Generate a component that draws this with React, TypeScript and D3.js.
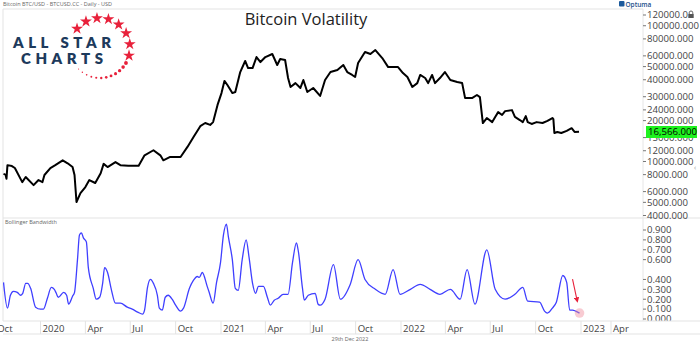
import React from "react";
import * as d3 from "d3";

const chartTitle = "Bitcoin Volatility";
const headerText = "Bitcoin BTC/USD - BTCUSD.CC - Daily - USD";
const lowerPanelTitle = "Bollinger Bandwidth";
const footerText = "29th Dec 2022";
const lastPriceLabel = "16,566.000";

const priceDates = [
  "2019-10-18","2019-10-22","2019-10-24","2019-10-26","2019-11-04","2019-11-10","2019-11-25","2019-12-02","2019-12-18","2019-12-28",
  "2020-01-05","2020-01-09","2020-01-21","2020-01-31","2020-02-15","2020-02-25","2020-03-06","2020-03-10","2020-03-14","2020-03-22",
  "2020-04-01","2020-04-09","2020-04-21","2020-05-02","2020-05-08","2020-05-16","2020-06-01","2020-06-11","2020-06-27","2020-07-18",
  "2020-07-30","2020-08-17","2020-08-31","2020-09-06","2020-09-20","2020-10-11","2020-10-25","2020-11-06","2020-11-20","2020-11-30",
  "2020-12-10","2020-12-16","2020-12-25","2021-01-02","2021-01-08","2021-01-14","2021-01-24","2021-01-30","2021-02-09","2021-02-19",
  "2021-02-25","2021-03-06","2021-03-14","2021-03-22","2021-04-01","2021-04-15","2021-04-25","2021-05-01","2021-05-11","2021-05-17",
  "2021-05-22","2021-06-01","2021-06-11","2021-06-17","2021-06-25","2021-07-07","2021-07-21","2021-07-31","2021-08-11","2021-08-25",
  "2021-09-06","2021-09-14","2021-09-24","2021-09-30","2021-10-06","2021-10-20","2021-10-31","2021-11-10","2021-11-24","2021-12-06",
  "2021-12-26","2022-01-05","2022-01-14","2022-01-24","2022-02-03","2022-02-09","2022-02-19","2022-02-25","2022-03-05","2022-03-11",
  "2022-03-21","2022-03-31","2022-04-11","2022-04-25","2022-05-05","2022-05-11","2022-05-25","2022-06-04","2022-06-10","2022-06-16",
  "2022-06-24","2022-07-05","2022-07-11","2022-07-17","2022-07-25","2022-07-31","2022-08-14","2022-08-20","2022-08-30","2022-09-05",
  "2022-09-11","2022-09-15","2022-09-23","2022-10-03","2022-10-15","2022-10-25","2022-11-04","2022-11-06","2022-11-08","2022-11-14",
  "2022-11-22","2022-12-03","2022-12-13","2022-12-19","2022-12-28"
];
const priceValues = [
  8100,8000,7450,9400,9250,8950,7050,7680,6700,7300,
  7050,7950,8950,9400,10200,9700,9100,7950,5030,5850,
  6480,7300,6940,8200,9600,9100,9900,9400,9300,9300,
  11100,12100,11100,10200,10800,10800,12800,15100,18200,19200,
  18600,19500,26100,31900,39200,36600,31900,32500,45600,55000,
  48800,48800,58800,54000,58800,61900,51400,56900,55900,41200,
  35400,37800,34800,39800,32500,34800,30400,39800,45600,47200,
  51400,45600,43400,41900,53100,64000,61900,66200,57800,49600,
  49600,44800,41900,35400,37800,43400,41200,37800,43400,37800,
  41200,45600,39800,38500,37800,29300,29300,30900,29800,19200,
  20900,19500,21300,23100,22000,23500,23900,21300,20200,19500,
  21600,19500,18900,19500,19200,19900,20900,20500,16200,16500,
  16200,16800,17600,16500,16566
];

const bbwDates = [
  "2019-10-18","2019-10-26","2019-11-01","2019-11-07","2019-11-15","2019-11-21","2019-11-26","2019-12-02","2019-12-06","2019-12-12",
  "2019-12-22","2020-01-01","2020-01-07","2020-01-15","2020-01-23","2020-01-29","2020-02-02","2020-02-06","2020-02-17","2020-02-23",
  "2020-02-27","2020-03-06","2020-03-10","2020-03-16","2020-03-20","2020-03-24","2020-03-28","2020-04-03","2020-04-07","2020-04-17",
  "2020-04-23","2020-04-30","2020-05-06","2020-05-10","2020-05-16","2020-05-24","2020-06-01","2020-06-11","2020-06-25","2020-07-05",
  "2020-07-16","2020-07-26","2020-07-30","2020-08-05","2020-08-11","2020-08-17","2020-08-25","2020-08-29","2020-09-04","2020-09-10",
  "2020-09-16","2020-09-24","2020-10-01","2020-10-11","2020-10-17","2020-10-29","2020-11-06","2020-11-14","2020-11-18","2020-11-24",
  "2020-12-04","2020-12-08","2020-12-16","2020-12-23","2020-12-31","2021-01-06","2021-01-12","2021-01-16","2021-01-24","2021-01-30",
  "2021-02-05","2021-02-13","2021-02-21","2021-02-27","2021-03-06","2021-03-12","2021-03-18","2021-03-28","2021-04-05","2021-04-11",
  "2021-04-19","2021-04-27","2021-05-07","2021-05-17","2021-05-26","2021-06-03","2021-06-07","2021-06-15","2021-06-19","2021-06-27",
  "2021-07-11","2021-07-17","2021-07-21","2021-07-31","2021-08-17","2021-08-31","2021-09-20","2021-10-06","2021-10-20","2021-11-10",
  "2021-11-30","2021-12-16","2021-12-30","2022-01-20","2022-02-09","2022-03-01","2022-03-21","2022-04-11","2022-05-01","2022-05-15",
  "2022-05-31","2022-06-24","2022-07-11","2022-07-31","2022-08-20","2022-09-05","2022-09-15","2022-10-09","2022-10-19","2022-10-25",
  "2022-11-04","2022-11-12","2022-11-25","2022-12-03","2022-12-09","2022-12-15","2022-12-21","2022-12-29"
];
const bbwValues = [
  0.37,0.11,0.24,0.28,0.27,0.24,0.26,0.36,0.36,0.31,
  0.12,0.10,0.10,0.21,0.32,0.30,0.26,0.22,0.27,0.24,
  0.15,0.23,0.27,0.60,0.85,0.87,0.82,0.78,0.52,0.31,
  0.20,0.22,0.36,0.52,0.47,0.29,0.16,0.16,0.12,0.10,
  0.07,0.05,0.09,0.32,0.40,0.36,0.24,0.11,0.09,0.22,
  0.24,0.20,0.14,0.08,0.11,0.31,0.39,0.43,0.42,0.47,
  0.33,0.27,0.16,0.37,0.57,0.85,0.96,0.83,0.60,0.31,
  0.29,0.60,0.80,0.62,0.36,0.26,0.33,0.33,0.22,0.14,
  0.19,0.21,0.25,0.25,0.57,0.77,0.68,0.32,0.19,0.24,
  0.26,0.15,0.14,0.20,0.55,0.20,0.35,0.60,0.40,0.30,
  0.25,0.50,0.25,0.30,0.35,0.30,0.25,0.30,0.20,0.50,
  0.15,0.70,0.30,0.20,0.25,0.32,0.18,0.17,0.08,0.06,
  0.11,0.17,0.44,0.37,0.09,0.09,0.08,0.06
];

const priceTicks = [120000,100000,80000,60000,50000,40000,30000,24000,20000,15000,12000,10000,8000,6000,5000,4000];
const bbwTicks = [0.9,0.8,0.7,0.6,0.4,0.3,0.2,0.1,0.0];

const W = 700, H = 347;
const plotL = 3, plotR = 643;
const topY = 9, sepY = 218, lowBot = 321, axisBot = 334;
const FONT = "'Open Sans', 'Noto Sans', sans-serif";
const parse = d3.utcParse("%Y-%m-%d");

export default function App() {
  const x = d3.scaleUtc()
    .domain([new Date(Date.UTC(2020, 0, 1)), new Date(Date.UTC(2023, 0, 1))])
    .range([40.5, 581]);
  const yP = d3.scaleLog().domain([4000, 120000]).range([215.5, 15]);
  const yB = d3.scaleLinear().domain([0, 0.9]).range([319, 230]);

  const priceData = priceDates.map((d, i) => ({ d: parse(d) as Date, v: priceValues[i] }));
  const bbwData = bbwDates.map((d, i) => ({ d: parse(d) as Date, v: bbwValues[i] }));

  const priceLine = d3.line<{ d: Date; v: number }>().x(p => x(p.d)).y(p => yP(p.v));
  const bbwLine = d3.line<{ d: Date; v: number }>().x(p => x(p.d)).y(p => yB(p.v)).curve(d3.curveMonotoneX);

  const xTicks = d3.utcMonth.every(3)!.range(new Date(Date.UTC(2019, 9, 1)), new Date(Date.UTC(2023, 3, 2)));
  const fmtTick = (d: Date) => (d.getUTCMonth() === 0 ? d3.utcFormat("%Y")(d) : d3.utcFormat("%b")(d));
  const fmtP = (v: number) => (v === 120000 ? "120000.0" : d3.format(".3f")(v));
  // the axis keeps its last label clear of the price scale
  const tickPos = (t: Date) => Math.min(x(t), plotR - 32);

  const last = bbwData[bbwData.length - 1];
  const lx = x(last.d), ly = yB(last.v);

  const cx = 100, cy = 48;
  const starAngles = d3.range(8).map(i => -140 + i * 22.1);
  const dotAngles = d3.range(12).map(i => 30 + i * 9.6);
  const star = d3.symbol().type(d3.symbolStar).size(44)();

  return (
    <svg width={W} height={H} style={{ position: "absolute", left: 0, top: 0, background: "#fff" }} fontFamily={FONT}>
      <defs>
        <clipPath id="topClip"><rect x={plotL} y={topY} width={plotR - plotL} height={sepY - topY} /></clipPath>
        <clipPath id="botClip"><rect x={plotL} y={sepY} width={plotR - plotL} height={lowBot - sepY} /></clipPath>
        <marker id="arrowHead" viewBox="0 0 10 10" refX="5" refY="5" markerWidth="5" markerHeight="5" orient="auto">
          <path d="M0,0 L10,5 L0,10 z" fill="#e8213b" />
        </marker>
      </defs>
      <rect x={0} y={0} width={W} height={H} fill="#fff" />

      <text x={3} y={6} fontSize={5.5} fill="#666">{headerText}</text>
      <g transform="translate(619,1)">
        <rect x={0} y={0} width={5.5} height={5.5} fill="#1c5a9c" rx={1} />
        <text x={6.5} y={5.5} fontSize={6.5} fill="#1c4f8a" fontWeight={600}>Optuma</text>
      </g>

      <line x1={plotL} x2={plotR} y1={topY} y2={topY} stroke="#e3e3e3" />
      <line x1={plotL} x2={plotL} y1={topY} y2={axisBot} stroke="#e3e3e3" />
      <line x1={plotL} x2={W} y1={sepY} y2={sepY} stroke="#e3e3e3" />
      <line x1={plotR} x2={plotR} y1={topY} y2={lowBot} stroke="#e6e6e6" />

      <text x={306} y={25} fontSize={16.5} fill="#222" textAnchor="middle">{chartTitle}</text>

      <g fill="#1d3a5c" fontWeight={800} fontFamily="'Lato', 'Open Sans', sans-serif">
        <text x={13} y={48} fontSize={15} textLength={98} lengthAdjust="spacing">ALL STAR</text>
        <text x={21} y={63.5} fontSize={15} textLength={82} lengthAdjust="spacing">CHARTS</text>
      </g>
      <g fill="#e8213b">
        {starAngles.map((a, i) => {
          const r = 30;
          const px = cx + r * Math.cos((a * Math.PI) / 180);
          const py = cy + r * Math.sin((a * Math.PI) / 180);
          return <path key={i} d={star!} transform={`translate(${px},${py})`} />;
        })}
        {dotAngles.map((a, i) => {
          const r = 30;
          const px = cx + r * Math.cos((a * Math.PI) / 180);
          const py = cy + r * Math.sin((a * Math.PI) / 180);
          return <circle key={i} cx={px} cy={py} r={Math.max(0.6, 1.9 - i * 0.12)} />;
        })}
      </g>

      <path d={priceLine(priceData)!} fill="none" stroke="#000" strokeWidth={2} strokeLinejoin="round" clipPath="url(#topClip)" />

      <g fontSize={9.6} fill="#444">
        {priceTicks.map(t => (
          <g key={t} transform={`translate(${plotR},${yP(t)})`}>
            <line x1={0} x2={3} stroke="#777" />
            <text x={4} dy="0.35em">{fmtP(t)}</text>
          </g>
        ))}
      </g>
      <g transform="translate(688,11)" fill="none" stroke="#555" strokeWidth={0.9}>
        <path d="M1.2,3 V1.8 a1.8,1.8 0 0 1 3.6,0 V3" />
        <rect x={0.3} y={3} width={5.4} height={4} fill="#555" stroke="none" />
      </g>
      <text x={694} y={170} fontSize={7} fill="#999">‹</text>

      <rect x={646} y={126} width={51} height={12} fill="#1ef21e" />
      <text x={648} y={132} dy="0.35em" fontSize={9.6} fill="#000">{lastPriceLabel}</text>

      <text x={5} y={224} fontSize={5.5} fill="#666">{lowerPanelTitle}</text>
      <path d={bbwLine(bbwData)!} fill="none" stroke="#3f3fff" strokeWidth={1.3} clipPath="url(#botClip)" />
      <g fontSize={9.6} fill="#444">
        {bbwTicks.map(t => (
          <g key={t} transform={`translate(${plotR},${yB(t)})`}>
            <line x1={0} x2={3} stroke="#777" />
            <text x={4} dy="0.35em">{d3.format(".3f")(t)}</text>
          </g>
        ))}
      </g>

      <line x1={lx - 7} y1={ly - 34} x2={lx - 2.5} y2={ly - 13} stroke="#e8213b" strokeWidth={1.1} markerEnd="url(#arrowHead)" />
      <circle cx={lx} cy={ly} r={4.8} fill="rgba(240,140,155,0.45)" />

      <rect x={0} y={lowBot} width={W} height={axisBot - lowBot} fill="#fff" />
      <line x1={plotL} x2={W} y1={lowBot} y2={lowBot} stroke="#e3e3e3" />
      <line x1={plotL} x2={W} y1={axisBot} y2={axisBot} stroke="#e3e3e3" />
      <g fontSize={9.6} fill="#444">
        {xTicks.map(t => (
          <g key={t.toISOString()}>
            <line x1={tickPos(t)} x2={tickPos(t)} y1={lowBot} y2={axisBot} stroke="#e3e3e3" />
            <text x={tickPos(t) + 2} y={331.5}>{fmtTick(t)}</text>
          </g>
        ))}
      </g>

      <text x={350} y={341} fontSize={5.5} fill="#666" textAnchor="middle">{footerText}</text>
    </svg>
  );
}
